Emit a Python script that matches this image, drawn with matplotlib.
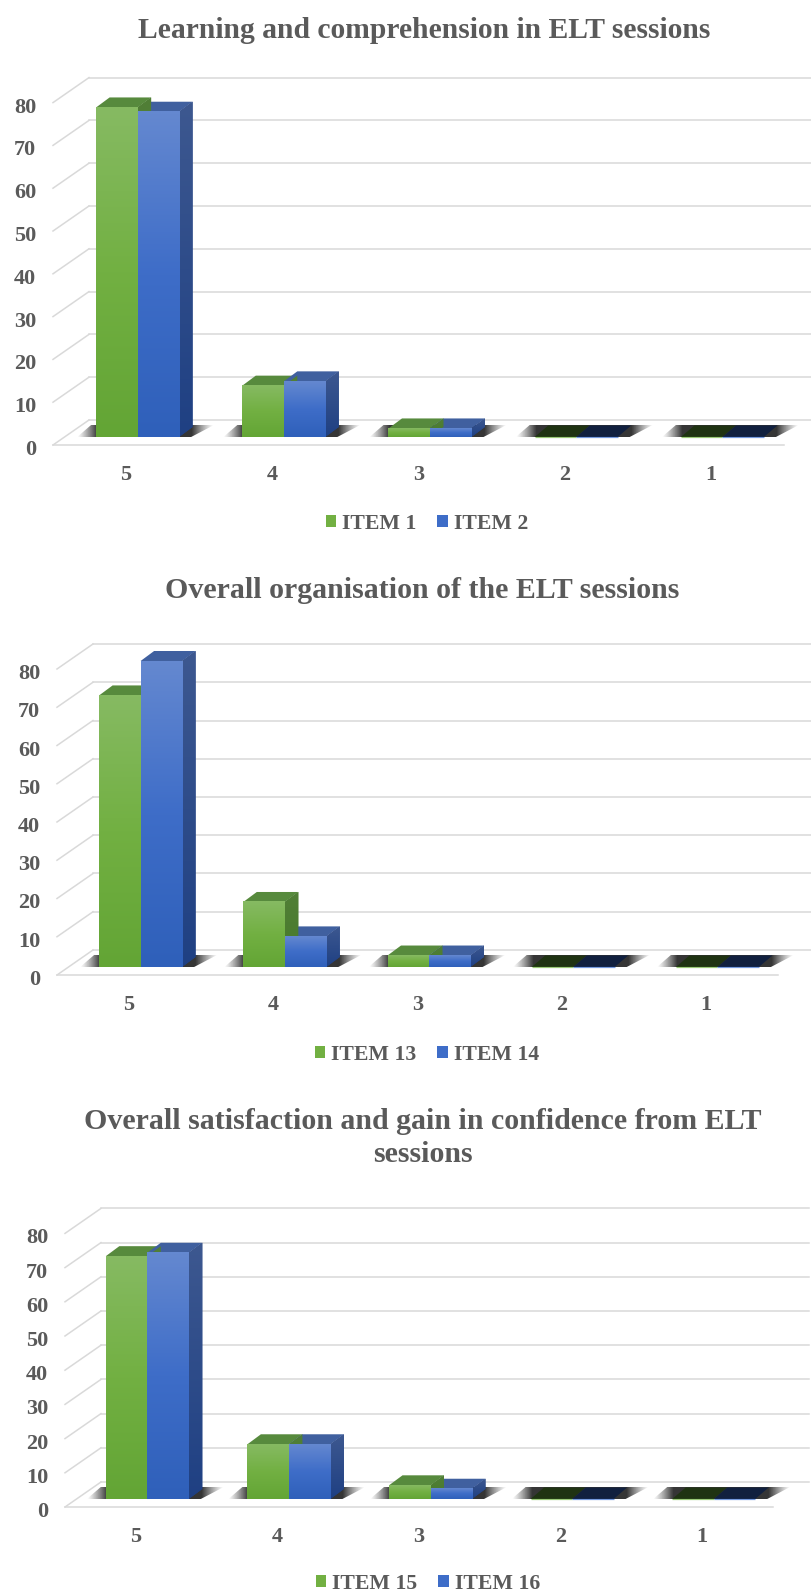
import numpy as np
import matplotlib
matplotlib.use("Agg")
import matplotlib.pyplot as plt
from matplotlib.patches import Patch, Polygon
from matplotlib.transforms import ScaledTranslation

W, H = 812, 1594

categories = ["5", "4", "3", "2", "1"]
y_ticks = [0, 10, 20, 30, 40, 50, 60, 70, 80]

titles = [
    "Learning and comprehension in ELT sessions",
    "Overall organisation of the ELT sessions",
    "Overall satisfaction and gain in confidence from ELT\nsessions",
]
item_names = [("ITEM 1", "ITEM 2"), ("ITEM 13", "ITEM 14"), ("ITEM 15", "ITEM 16")]

item_1 = [77, 12, 2, 0, 0]
item_2 = [76, 13, 2, 0, 0]
item_13 = [71, 17, 3, 0, 0]
item_14 = [80, 8, 3, 0, 0]
item_15 = [71, 16, 4, 0, 0]
item_16 = [72, 16, 3, 0, 0]
panel_values = [(item_1, item_2), (item_13, item_14), (item_15, item_16)]

# layout of each panel in pixels: left, right, floor y, px per 10 units
panels = [
    (53, 784, 445, 42.8),
    (57, 778, 975, 38.25),
    (65, 773, 1507, 34.2),
]
title_pos = [(424, 30), (422, 591), (423, 1138)]
legend_pos = [(427, 524), (427, 1055), (428, 1584)]

TEXT = "#5a5a5a"
GRID = "#d9d9d9"
FONT = ["Liberation Serif", "DejaVu Serif"]

GREEN = dict(front=("#86ba62", "#72b042", "#63a535"), side=("#517f37", "#477a2a"),
             top="#578a3d", dark="#1f3312", line="#6fb33f")
BLUE = dict(front=("#6488d0", "#3e6dc8", "#2f60ba"), side=("#3d5890", "#1f4083"),
            top="#40609f", dark="#11203f", line="#3a70d0")


def hex_rgb(c):
    return np.array(matplotlib.colors.to_rgb(c))


def gradient(colors, n=64):
    stops = np.linspace(0, 1, len(colors))
    rgb = np.array([hex_rgb(c) for c in colors])
    t = np.linspace(0, 1, n)
    return np.stack([np.interp(t, stops, rgb[:, i]) for i in range(3)], axis=1)[:, None, :]


def clip_image(im, patch):
    # the image keeps the axes box as clip unless told otherwise
    im.set_clip_box(fig.bbox)
    im.set_clip_path(patch)


def draw_shadow(ax, x0, x1, base, px, py):
    pts = [(x0 - 19 * px, base), (x1 + 12 * px, base),
           (x1 + 35 * px, base + 12 * py), (x0 - 5 * px, base + 12 * py)]
    poly = Polygon(pts, closed=True, facecolor="none", edgecolor="none", clip_on=False)
    ax.add_patch(poly)
    left, right = x0 - 19 * px, x1 + 35 * px
    xs = np.linspace(left, right, 200)
    alpha = np.interp(xs, [left, x0 + 1 * px, x1 + 13 * px, right], [0, 1, 1, 0]) ** 1.2 * 0.9
    img = np.zeros((1, 200, 4))
    img[..., :3] = 0.12
    img[..., 3] = alpha
    im = ax.imshow(img, extent=(left, right, base, base + 12 * py), aspect="auto", zorder=2)
    clip_image(im, poly)


def draw_bar(ax, x0, width, value, base, ddx, ddy, style):
    top = base + value
    x1 = x0 + width
    if value == 0:
        ax.add_patch(Polygon([(x0, base), (x1, base), (x1 + ddx, base + ddy * 1.15), (x0 + ddx, base + ddy * 1.15)],
                             facecolor=style["dark"], edgecolor="none", zorder=3, clip_on=False))
        ax.plot([x0, x1], [base, base], color=style["line"], lw=0.9, zorder=3.2, alpha=0.7,
                solid_capstyle="butt", clip_on=False)
        return
    # top face
    ax.add_patch(Polygon([(x0, top), (x1, top), (x1 + ddx, top + ddy), (x0 + ddx, top + ddy)],
                         facecolor=style["top"], edgecolor="none", zorder=3, clip_on=False))
    # side face
    side = Polygon([(x1, base), (x1 + ddx, base + ddy), (x1 + ddx, top + ddy), (x1, top)],
                   facecolor=style["side"][1], edgecolor="none", zorder=3, clip_on=False)
    ax.add_patch(side)
    im = ax.imshow(gradient(style["side"]), extent=(x1, x1 + ddx, base, top + ddy), origin="upper",
                   aspect="auto", zorder=3.01, interpolation="bilinear")
    clip_image(im, side)
    # front face
    rect = ax.bar(x0, value, width, bottom=base, align="edge", color=style["front"][1],
                  linewidth=0, zorder=3.02, clip_on=False)[0]
    im = ax.imshow(gradient(style["front"]), extent=(x0, x1, base, top), origin="upper",
                   aspect="auto", zorder=3.03, interpolation="bilinear")
    im.set_clip_box(fig.bbox)


fig = plt.figure(figsize=(W / 100, H / 100), dpi=100)
plt.rcParams["font.family"] = FONT

for i, (left, right, floor, unit) in enumerate(panels):
    ax = fig.add_axes([left / W, 1 - floor / H, (right - left) / W, 8 * unit / H])
    ax.set_xlim(0, 5)
    ax.set_ylim(0, 80)
    ax.set_autoscale_on(False)
    for s in ax.spines.values():
        s.set_visible(False)
    ax.patch.set_alpha(0)

    px = 5 / (right - left)   # data units per pixel
    py = 10 / unit

    # walls and floor
    wall_dx, wall_dy = 36 * px, 25 * py
    for v in y_ticks:
        ax.plot([0, wall_dx], [v, v + wall_dy], color=GRID, lw=1.1, clip_on=False, zorder=1)
        ax.plot([wall_dx, 5 + wall_dx], [v + wall_dy, v + wall_dy], color=GRID, lw=1.1,
                clip_on=False, zorder=1)
    ax.plot([0, 5], [0, 0], color=GRID, lw=1.1, clip_on=False, zorder=1)

    # bars
    series_a, series_b = panel_values[i]
    width = 41.5 * px
    base = 8 * py
    ddx, ddy = 13.5 * px, 10 * py
    centres = np.arange(len(categories)) + 0.5
    for c, va, vb in zip(centres, series_a, series_b):
        xc = c + 11.5 * px
        draw_shadow(ax, xc - width, xc + width, base, px, py)
        draw_bar(ax, xc - width, width, va, base, ddx, ddy, GREEN)
        draw_bar(ax, xc, width, vb, base, ddx, ddy, BLUE)

    ax.set_xlim(0, 5)
    ax.set_ylim(0, 80)
    ax.set_xticks(centres)
    ax.set_xticklabels(categories)
    ax.set_yticks(y_ticks)
    ax.tick_params(axis="both", length=0, labelsize=16, labelcolor=TEXT)
    ax.tick_params(axis="x", pad=14.5)
    ax.tick_params(axis="y", pad=12)
    for lab in ax.get_xticklabels() + ax.get_yticklabels():
        lab.set_fontweight("bold")
    nudge = ScaledTranslation(0, -2.5 / 100, fig.dpi_scale_trans)
    for lab in ax.get_yticklabels():
        lab.set_transform(lab.get_transform() + nudge)

    tx, ty = title_pos[i]
    fig.text(tx / W, 1 - ty / H, titles[i], ha="center", va="center",
             fontsize=21.3 if i == 0 else 21.5,
             fontweight="bold", color=TEXT, linespacing=1.28)

    handles = [Patch(color=GREEN["front"][1], linewidth=0), Patch(color=BLUE["front"][1], linewidth=0)]
    lx, ly = legend_pos[i]
    ax.legend(handles, item_names[i], ncols=2, loc="center", frameon=False,
              bbox_to_anchor=(lx / W, 1 - ly / H), bbox_transform=fig.transFigure,
              handlelength=0.47, handleheight=0.47, handletextpad=0.3, columnspacing=0.95,
              borderpad=0, labelcolor=TEXT, prop={"family": FONT, "weight": "bold", "size": 15.7})

fig.savefig("out.png", dpi=100, facecolor="white")
